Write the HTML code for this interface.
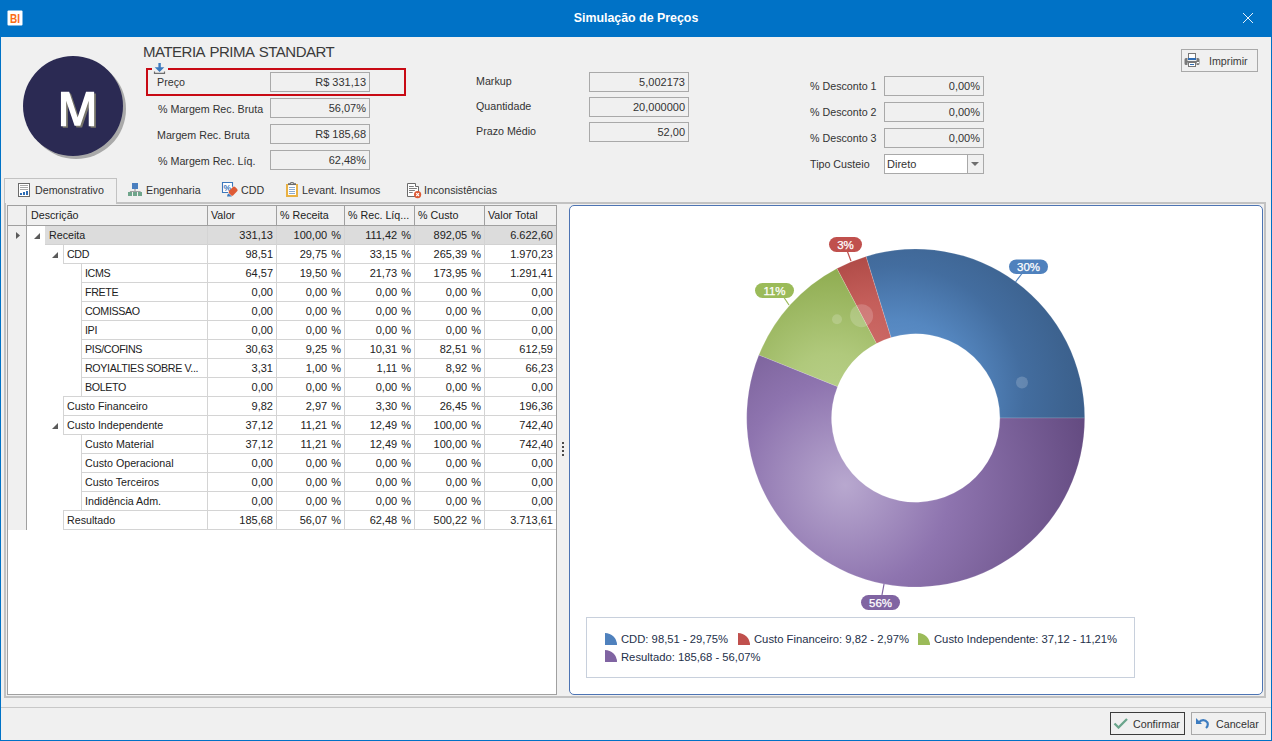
<!DOCTYPE html>
<html><head><meta charset="utf-8">
<style>
*{margin:0;padding:0;box-sizing:border-box}
html,body{width:1272px;height:741px;overflow:hidden;background:#f0f0f0}
body{position:relative;font-family:"Liberation Sans",sans-serif;font-size:10.7px;color:#333}
.a{position:absolute}
.t{position:absolute;white-space:nowrap;line-height:13px}
.gt{color:#222}
.lg{color:#24304a;font-size:11.25px}
.fld{position:absolute;border:1px solid #a9a9a9;background:#f0f0f0;height:20px;width:100px;text-align:right;padding-right:3px;line-height:18px;color:#333;font-size:11px}
</style></head><body>
<!-- window frame -->
<div class="a" style="left:0;top:0;width:1272px;height:37px;background:#0072c6"></div>
<div class="a" style="left:0;top:0;width:1px;height:741px;background:#0072c6"></div>
<div class="a" style="left:1271px;top:0;width:1px;height:741px;background:#0072c6"></div>
<div class="a" style="left:0;top:740px;width:1272px;height:1px;background:#0072c6"></div>
<!-- BI icon -->
<svg class="a" style="left:7px;top:10px" width="16" height="16"><rect x="0.5" y="0.5" width="15" height="15" rx="1" fill="#fff"/><text x="3" y="12.7" font-family="Liberation Sans" font-weight="bold" font-size="13.2" fill="#fb6c14" textLength="10" lengthAdjust="spacingAndGlyphs">BI</text></svg>
<div class="t" style="left:0;top:11px;width:1272px;text-align:center;font-weight:bold;font-size:12.4px;color:#fff;line-height:14px">Simulação de Preços</div>
<!-- close X -->
<svg class="a" style="left:1242px;top:12px" width="12" height="12"><path d="M1 1L11 11M11 1L1 11" stroke="#fff" stroke-opacity="0.9" stroke-width="1"/></svg>

<!-- avatar -->
<div class="a" style="left:26px;top:59px;width:100px;height:100px;border-radius:50%;background:#a9a9a9"></div>
<div class="a" style="left:23px;top:56px;width:100px;height:100px;border-radius:50%;background:#2b2a53"></div>
<svg class="a" style="left:0;top:0" width="130" height="170"><polygon points="60.94,91.75 69.17,91.75 77.60,117.39 86.04,91.75 94.14,91.75 94.14,126.16 88.74,126.16 88.74,100.86 80.30,125.82 74.57,125.82 66.13,100.86 66.13,126.16 60.94,126.16" fill="#77756a" transform="translate(1.8 1.7)"/><polygon points="60.94,91.75 69.17,91.75 77.60,117.39 86.04,91.75 94.14,91.75 94.14,126.16 88.74,126.16 88.74,100.86 80.30,125.82 74.57,125.82 66.13,100.86 66.13,126.16 60.94,126.16" fill="#fff"/></svg>
<div class="t" style="left:143px;top:43.5px;font-size:15px;line-height:16px;color:#3b3b3b;letter-spacing:-0.5px;word-spacing:1.5px">MATERIA PRIMA STANDART</div>

<!-- red box -->
<div class="a" style="left:146px;top:68px;width:260px;height:28px;border:2px solid #c80a14"></div>
<div class="a" style="left:152px;top:62px;width:16px;height:10px;background:#f0f0f0"></div>
<svg class="a" style="left:153px;top:62px" width="13" height="13"><path d="M5.4 1H7.8V5.2H11.3L6.6 10L1.7 5.2H5.4Z" fill="#3d7abf"/><path d="M1.5 9.5V11.3H11.5V9.5" fill="none" stroke="#6e6e6e" stroke-width="1.2"/></svg>
<div class="t" style="left:157px;top:76px">Preço</div>
<div class="fld" style="left:270px;top:72px">R$ 331,13</div>
<div class="t" style="left:158px;top:103px">% Margem Rec. Bruta</div>
<div class="fld" style="left:270px;top:98px">56,07%</div>
<div class="t" style="left:157px;top:129px">Margem Rec. Bruta</div>
<div class="fld" style="left:270px;top:124px">R$ 185,68</div>
<div class="t" style="left:158px;top:155px">% Margem Rec. Líq.</div>
<div class="fld" style="left:270px;top:150px">62,48%</div>

<div class="t" style="left:476px;top:75px">Markup</div>
<div class="fld" style="left:589px;top:72px">5,002173</div>
<div class="t" style="left:476px;top:100px">Quantidade</div>
<div class="fld" style="left:589px;top:97px">20,000000</div>
<div class="t" style="left:476px;top:125px">Prazo Médio</div>
<div class="fld" style="left:589px;top:122px">52,00</div>

<div class="t" style="left:810px;top:80px">% Desconto 1</div>
<div class="fld" style="left:884px;top:76px">0,00%</div>
<div class="t" style="left:810px;top:106px">% Desconto 2</div>
<div class="fld" style="left:884px;top:102px">0,00%</div>
<div class="t" style="left:810px;top:132px">% Desconto 3</div>
<div class="fld" style="left:884px;top:128px">0,00%</div>
<div class="t" style="left:810px;top:158px">Tipo Custeio</div>
<div class="fld" style="left:884px;top:154px;background:#fff;text-align:left;padding-left:2px">Direto</div>
<div class="a" style="left:967px;top:155px;width:16px;height:18px;background:#f0f0f0;border-left:1px solid #a9a9a9"></div>
<svg class="a" style="left:971px;top:162px" width="9" height="5"><path d="M0 0H8L4 4Z" fill="#6e6e6e"/></svg>

<!-- Imprimir -->
<div class="a" style="left:1181px;top:49px;width:77px;height:23px;border:1px solid #a9a9a9"></div>
<svg class="a" style="left:1184px;top:53px" width="17" height="15"><rect x="4.5" y="0.5" width="7" height="6" fill="#fff" stroke="#777"/><rect x="4" y="5" width="8" height="2" fill="#2f6db5"/><path d="M2 5H3.5V8H12.5V5H14A1.5 1.5 0 0 1 15.5 6.5V10.5A1.5 1.5 0 0 1 14 12H12.5V9.5H3.5V12H2A1.5 1.5 0 0 1 0.5 10.5V6.5A1.5 1.5 0 0 1 2 5Z" fill="#7a7a7a"/><rect x="13" y="9" width="2" height="1.2" fill="#fff"/><rect x="4.5" y="9.5" width="7" height="4" fill="#fff" stroke="#777"/><path d="M6 11.5H10" stroke="#2f6db5" stroke-width="1"/></svg>
<div class="t" style="left:1209px;top:55px;color:#3b3b3b">Imprimir</div>

<!-- tabs -->
<div class="a" style="left:4px;top:202px;width:1262px;height:2px;background:#c2c2c2"></div>
<div class="a" style="left:4px;top:178px;width:113px;height:26px;border:1px solid #c2c2c2;border-bottom:none;background:#f0f0f0"></div>
<svg class="a" style="left:18px;top:183px" width="13" height="15"><rect x="0.5" y="0.5" width="11" height="13" fill="#fff" stroke="#6b6b6b"/><path d="M2 2.5H10M2 4.5H10M2 6.5H10" stroke="#a8a8a8" stroke-width="1"/><rect x="2" y="10" width="2" height="2" fill="#2f6db5"/><rect x="5" y="9" width="2" height="3" fill="#2f6db5"/><rect x="8" y="8" width="2" height="4" fill="#2f6db5"/></svg>
<div class="t" style="left:35px;top:184px">Demonstrativo</div>
<svg class="a" style="left:128px;top:183px" width="15" height="14"><rect x="4" y="0" width="6" height="6" fill="#4a7fbf"/><path d="M7 6V8.5M2.5 9V8.5H12V9M7 8.5V9" stroke="#a0a0a0" stroke-width="1.2" fill="none"/><rect x="0" y="9" width="4" height="4" fill="#6fa58b"/><rect x="5" y="9" width="4" height="4" fill="#6fa58b"/><rect x="10" y="9" width="4" height="4" fill="#6fa58b"/></svg>
<div class="t" style="left:146px;top:184px">Engenharia</div>
<svg class="a" style="left:220px;top:180px" width="20" height="20"><rect x="2.5" y="2.5" width="10.5" height="10" fill="#fff"/><path d="M8 12.5H2.5V2.5H12.5V6.8" fill="none" stroke="#3c78bc" stroke-width="1.1"/><text x="3.6" y="10.6" font-family="Liberation Sans" font-weight="bold" font-size="8.5" fill="#3c78bc">%</text><rect x="10.2" y="7.2" width="6" height="8.6" rx="1.6" fill="#de5b36" transform="rotate(45 13.6 11.2)"/><path d="M7 16.6Q7.2 14 8.6 13.4Q10 14.8 12 16.6Z" fill="#3c78bc"/></svg>
<div class="t" style="left:241px;top:184px">CDD</div>
<svg class="a" style="left:283px;top:180px" width="20" height="20"><path d="M3 4H5.2V15H13V4H15V17H3Z" fill="#e9b143"/><rect x="5.2" y="5.6" width="7.8" height="9.4" fill="#fff"/><path d="M5 3.2H7.4V2H10.6V3.2H13V5H5Z" fill="#6b6b6b"/><rect x="8.3" y="2.9" width="1.4" height="1" fill="#fff"/><path d="M6 7.5H12M6 9.5H12M6 11.5H12M6 13.5H12" stroke="#8aaad0" stroke-width="1"/></svg>
<div class="t" style="left:302px;top:184px">Levant. Insumos</div>
<svg class="a" style="left:403px;top:180px" width="20" height="20"><path d="M4.5 3.5H12.5V6.5H15.5V16.5H4.5Z" fill="#fff" stroke="#6b6b6b" stroke-width="1"/><path d="M6 6.5H10.8M6 8.5H13.9M6 10.5H11.9M6 12.5H9.7" stroke="#7d7d7d" stroke-width="1"/><circle cx="14.6" cy="14.6" r="3.6" fill="#dd5a36"/><path d="M13.2 13.2L16 16M16 13.2L13.2 16" stroke="#fff" stroke-width="1.1"/></svg>
<div class="t" style="left:424px;top:184px">Inconsistências</div>

<!-- page borders -->
<div class="a" style="left:4px;top:203px;width:2px;height:495px;background:#c2c2c2"></div>
<div class="a" style="left:1264px;top:203px;width:2px;height:495px;background:#c2c2c2"></div>
<div class="a" style="left:4px;top:696px;width:1262px;height:2px;background:#c2c2c2"></div>
<!-- splitter dots -->
<div class="a" style="left:562px;top:442px;width:2px;height:2px;background:#4a4a4a"></div>
<div class="a" style="left:562px;top:446px;width:2px;height:2px;background:#4a4a4a"></div>
<div class="a" style="left:562px;top:450px;width:2px;height:2px;background:#4a4a4a"></div>
<div class="a" style="left:562px;top:454px;width:2px;height:2px;background:#4a4a4a"></div>
<div class="a" style="left:7px;top:205px;width:550px;height:490px;border:1px solid #a0a0a0;background:#fff"></div>
<div class="a" style="left:8px;top:206px;width:548px;height:19px;background:#f0f0f0"></div>
<div class="a" style="left:8px;top:225px;width:548px;height:1px;background:#a0a0a0"></div>
<div class="a" style="left:8px;top:226px;width:18px;height:304px;background:#f0f0f0"></div>
<div class="a" style="left:26px;top:206px;width:1px;height:324px;background:#a0a0a0"></div>
<div class="a" style="left:207px;top:206px;width:1px;height:19px;background:#a0a0a0"></div>
<div class="a" style="left:276px;top:206px;width:1px;height:19px;background:#a0a0a0"></div>
<div class="a" style="left:344px;top:206px;width:1px;height:19px;background:#a0a0a0"></div>
<div class="a" style="left:414px;top:206px;width:1px;height:19px;background:#a0a0a0"></div>
<div class="a" style="left:484px;top:206px;width:1px;height:19px;background:#a0a0a0"></div>
<div class="t gt" style="left:31px;top:209px">Descrição</div>
<div class="t gt" style="left:211px;top:209px">Valor</div>
<div class="t gt" style="left:280px;top:209px">% Receita</div>
<div class="t gt" style="left:348px;top:209px">% Rec. Líq...</div>
<div class="t gt" style="left:418px;top:209px">% Custo</div>
<div class="t gt" style="left:488px;top:209px">Valor Total</div>
<div class="a" style="left:45px;top:226px;width:511px;height:19px;background:#dcdcdc"></div>
<div class="a" style="left:45px;top:244px;width:511px;height:1px;background:#d2d2d2"></div>
<svg class="a" style="left:34px;top:233px" width="7" height="7"><path d="M6 0V6H0Z" fill="#5a5a5a"/></svg>
<div class="t gt" style="left:49px;top:229px">Receita</div>
<div class="t gt" style="left:207px;top:229px;width:66px;text-align:right;font-size:11px;word-spacing:1px">331,13</div>
<div class="t gt" style="left:276px;top:229px;width:65px;text-align:right;font-size:11px;word-spacing:1px">100,00 %</div>
<div class="t gt" style="left:344px;top:229px;width:67px;text-align:right;font-size:11px;word-spacing:1px">111,42 %</div>
<div class="t gt" style="left:414px;top:229px;width:67px;text-align:right;font-size:11px;word-spacing:1px">892,05 %</div>
<div class="t gt" style="left:484px;top:229px;width:69px;text-align:right;font-size:11px;word-spacing:1px">6.622,60</div>
<div class="a" style="left:63px;top:245px;width:1px;height:19px;background:#d4d4d4"></div>
<div class="a" style="left:63px;top:263px;width:493px;height:1px;background:#d4d4d4"></div>
<svg class="a" style="left:52px;top:252px" width="7" height="7"><path d="M6 0V6H0Z" fill="#5a5a5a"/></svg>
<div class="t gt" style="left:67px;top:248px;letter-spacing:-0.35px">CDD</div>
<div class="t gt" style="left:207px;top:248px;width:66px;text-align:right;font-size:11px;word-spacing:1px">98,51</div>
<div class="t gt" style="left:276px;top:248px;width:65px;text-align:right;font-size:11px;word-spacing:1px">29,75 %</div>
<div class="t gt" style="left:344px;top:248px;width:67px;text-align:right;font-size:11px;word-spacing:1px">33,15 %</div>
<div class="t gt" style="left:414px;top:248px;width:67px;text-align:right;font-size:11px;word-spacing:1px">265,39 %</div>
<div class="t gt" style="left:484px;top:248px;width:69px;text-align:right;font-size:11px;word-spacing:1px">1.970,23</div>
<div class="a" style="left:81px;top:264px;width:1px;height:19px;background:#d4d4d4"></div>
<div class="a" style="left:81px;top:282px;width:475px;height:1px;background:#d4d4d4"></div>
<div class="a" style="left:81px;top:263px;width:475px;height:1px;background:#d4d4d4"></div>
<div class="t gt" style="left:85px;top:267px;letter-spacing:-0.35px">ICMS</div>
<div class="t gt" style="left:207px;top:267px;width:66px;text-align:right;font-size:11px;word-spacing:1px">64,57</div>
<div class="t gt" style="left:276px;top:267px;width:65px;text-align:right;font-size:11px;word-spacing:1px">19,50 %</div>
<div class="t gt" style="left:344px;top:267px;width:67px;text-align:right;font-size:11px;word-spacing:1px">21,73 %</div>
<div class="t gt" style="left:414px;top:267px;width:67px;text-align:right;font-size:11px;word-spacing:1px">173,95 %</div>
<div class="t gt" style="left:484px;top:267px;width:69px;text-align:right;font-size:11px;word-spacing:1px">1.291,41</div>
<div class="a" style="left:81px;top:283px;width:1px;height:19px;background:#d4d4d4"></div>
<div class="a" style="left:81px;top:301px;width:475px;height:1px;background:#d4d4d4"></div>
<div class="a" style="left:81px;top:282px;width:475px;height:1px;background:#d4d4d4"></div>
<div class="t gt" style="left:85px;top:286px;letter-spacing:-0.35px">FRETE</div>
<div class="t gt" style="left:207px;top:286px;width:66px;text-align:right;font-size:11px;word-spacing:1px">0,00</div>
<div class="t gt" style="left:276px;top:286px;width:65px;text-align:right;font-size:11px;word-spacing:1px">0,00 %</div>
<div class="t gt" style="left:344px;top:286px;width:67px;text-align:right;font-size:11px;word-spacing:1px">0,00 %</div>
<div class="t gt" style="left:414px;top:286px;width:67px;text-align:right;font-size:11px;word-spacing:1px">0,00 %</div>
<div class="t gt" style="left:484px;top:286px;width:69px;text-align:right;font-size:11px;word-spacing:1px">0,00</div>
<div class="a" style="left:81px;top:302px;width:1px;height:19px;background:#d4d4d4"></div>
<div class="a" style="left:81px;top:320px;width:475px;height:1px;background:#d4d4d4"></div>
<div class="a" style="left:81px;top:301px;width:475px;height:1px;background:#d4d4d4"></div>
<div class="t gt" style="left:85px;top:305px;letter-spacing:-0.35px">COMISSAO</div>
<div class="t gt" style="left:207px;top:305px;width:66px;text-align:right;font-size:11px;word-spacing:1px">0,00</div>
<div class="t gt" style="left:276px;top:305px;width:65px;text-align:right;font-size:11px;word-spacing:1px">0,00 %</div>
<div class="t gt" style="left:344px;top:305px;width:67px;text-align:right;font-size:11px;word-spacing:1px">0,00 %</div>
<div class="t gt" style="left:414px;top:305px;width:67px;text-align:right;font-size:11px;word-spacing:1px">0,00 %</div>
<div class="t gt" style="left:484px;top:305px;width:69px;text-align:right;font-size:11px;word-spacing:1px">0,00</div>
<div class="a" style="left:81px;top:321px;width:1px;height:19px;background:#d4d4d4"></div>
<div class="a" style="left:81px;top:339px;width:475px;height:1px;background:#d4d4d4"></div>
<div class="a" style="left:81px;top:320px;width:475px;height:1px;background:#d4d4d4"></div>
<div class="t gt" style="left:85px;top:324px;letter-spacing:-0.35px">IPI</div>
<div class="t gt" style="left:207px;top:324px;width:66px;text-align:right;font-size:11px;word-spacing:1px">0,00</div>
<div class="t gt" style="left:276px;top:324px;width:65px;text-align:right;font-size:11px;word-spacing:1px">0,00 %</div>
<div class="t gt" style="left:344px;top:324px;width:67px;text-align:right;font-size:11px;word-spacing:1px">0,00 %</div>
<div class="t gt" style="left:414px;top:324px;width:67px;text-align:right;font-size:11px;word-spacing:1px">0,00 %</div>
<div class="t gt" style="left:484px;top:324px;width:69px;text-align:right;font-size:11px;word-spacing:1px">0,00</div>
<div class="a" style="left:81px;top:340px;width:1px;height:19px;background:#d4d4d4"></div>
<div class="a" style="left:81px;top:358px;width:475px;height:1px;background:#d4d4d4"></div>
<div class="a" style="left:81px;top:339px;width:475px;height:1px;background:#d4d4d4"></div>
<div class="t gt" style="left:85px;top:343px;letter-spacing:-0.35px">PIS/COFINS</div>
<div class="t gt" style="left:207px;top:343px;width:66px;text-align:right;font-size:11px;word-spacing:1px">30,63</div>
<div class="t gt" style="left:276px;top:343px;width:65px;text-align:right;font-size:11px;word-spacing:1px">9,25 %</div>
<div class="t gt" style="left:344px;top:343px;width:67px;text-align:right;font-size:11px;word-spacing:1px">10,31 %</div>
<div class="t gt" style="left:414px;top:343px;width:67px;text-align:right;font-size:11px;word-spacing:1px">82,51 %</div>
<div class="t gt" style="left:484px;top:343px;width:69px;text-align:right;font-size:11px;word-spacing:1px">612,59</div>
<div class="a" style="left:81px;top:359px;width:1px;height:19px;background:#d4d4d4"></div>
<div class="a" style="left:81px;top:377px;width:475px;height:1px;background:#d4d4d4"></div>
<div class="a" style="left:81px;top:358px;width:475px;height:1px;background:#d4d4d4"></div>
<div class="t gt" style="left:85px;top:362px;letter-spacing:-0.35px">ROYIALTIES SOBRE V...</div>
<div class="t gt" style="left:207px;top:362px;width:66px;text-align:right;font-size:11px;word-spacing:1px">3,31</div>
<div class="t gt" style="left:276px;top:362px;width:65px;text-align:right;font-size:11px;word-spacing:1px">1,00 %</div>
<div class="t gt" style="left:344px;top:362px;width:67px;text-align:right;font-size:11px;word-spacing:1px">1,11 %</div>
<div class="t gt" style="left:414px;top:362px;width:67px;text-align:right;font-size:11px;word-spacing:1px">8,92 %</div>
<div class="t gt" style="left:484px;top:362px;width:69px;text-align:right;font-size:11px;word-spacing:1px">66,23</div>
<div class="a" style="left:81px;top:378px;width:1px;height:19px;background:#d4d4d4"></div>
<div class="a" style="left:81px;top:396px;width:475px;height:1px;background:#d4d4d4"></div>
<div class="a" style="left:81px;top:377px;width:475px;height:1px;background:#d4d4d4"></div>
<div class="t gt" style="left:85px;top:381px;letter-spacing:-0.35px">BOLETO</div>
<div class="t gt" style="left:207px;top:381px;width:66px;text-align:right;font-size:11px;word-spacing:1px">0,00</div>
<div class="t gt" style="left:276px;top:381px;width:65px;text-align:right;font-size:11px;word-spacing:1px">0,00 %</div>
<div class="t gt" style="left:344px;top:381px;width:67px;text-align:right;font-size:11px;word-spacing:1px">0,00 %</div>
<div class="t gt" style="left:414px;top:381px;width:67px;text-align:right;font-size:11px;word-spacing:1px">0,00 %</div>
<div class="t gt" style="left:484px;top:381px;width:69px;text-align:right;font-size:11px;word-spacing:1px">0,00</div>
<div class="a" style="left:63px;top:397px;width:1px;height:19px;background:#d4d4d4"></div>
<div class="a" style="left:63px;top:415px;width:493px;height:1px;background:#d4d4d4"></div>
<div class="a" style="left:63px;top:396px;width:493px;height:1px;background:#d4d4d4"></div>
<div class="t gt" style="left:67px;top:400px">Custo Financeiro</div>
<div class="t gt" style="left:207px;top:400px;width:66px;text-align:right;font-size:11px;word-spacing:1px">9,82</div>
<div class="t gt" style="left:276px;top:400px;width:65px;text-align:right;font-size:11px;word-spacing:1px">2,97 %</div>
<div class="t gt" style="left:344px;top:400px;width:67px;text-align:right;font-size:11px;word-spacing:1px">3,30 %</div>
<div class="t gt" style="left:414px;top:400px;width:67px;text-align:right;font-size:11px;word-spacing:1px">26,45 %</div>
<div class="t gt" style="left:484px;top:400px;width:69px;text-align:right;font-size:11px;word-spacing:1px">196,36</div>
<div class="a" style="left:63px;top:416px;width:1px;height:19px;background:#d4d4d4"></div>
<div class="a" style="left:63px;top:434px;width:493px;height:1px;background:#d4d4d4"></div>
<div class="a" style="left:63px;top:415px;width:493px;height:1px;background:#d4d4d4"></div>
<svg class="a" style="left:52px;top:423px" width="7" height="7"><path d="M6 0V6H0Z" fill="#5a5a5a"/></svg>
<div class="t gt" style="left:67px;top:419px">Custo Independente</div>
<div class="t gt" style="left:207px;top:419px;width:66px;text-align:right;font-size:11px;word-spacing:1px">37,12</div>
<div class="t gt" style="left:276px;top:419px;width:65px;text-align:right;font-size:11px;word-spacing:1px">11,21 %</div>
<div class="t gt" style="left:344px;top:419px;width:67px;text-align:right;font-size:11px;word-spacing:1px">12,49 %</div>
<div class="t gt" style="left:414px;top:419px;width:67px;text-align:right;font-size:11px;word-spacing:1px">100,00 %</div>
<div class="t gt" style="left:484px;top:419px;width:69px;text-align:right;font-size:11px;word-spacing:1px">742,40</div>
<div class="a" style="left:81px;top:435px;width:1px;height:19px;background:#d4d4d4"></div>
<div class="a" style="left:81px;top:453px;width:475px;height:1px;background:#d4d4d4"></div>
<div class="a" style="left:81px;top:434px;width:475px;height:1px;background:#d4d4d4"></div>
<div class="t gt" style="left:85px;top:438px">Custo Material</div>
<div class="t gt" style="left:207px;top:438px;width:66px;text-align:right;font-size:11px;word-spacing:1px">37,12</div>
<div class="t gt" style="left:276px;top:438px;width:65px;text-align:right;font-size:11px;word-spacing:1px">11,21 %</div>
<div class="t gt" style="left:344px;top:438px;width:67px;text-align:right;font-size:11px;word-spacing:1px">12,49 %</div>
<div class="t gt" style="left:414px;top:438px;width:67px;text-align:right;font-size:11px;word-spacing:1px">100,00 %</div>
<div class="t gt" style="left:484px;top:438px;width:69px;text-align:right;font-size:11px;word-spacing:1px">742,40</div>
<div class="a" style="left:81px;top:454px;width:1px;height:19px;background:#d4d4d4"></div>
<div class="a" style="left:81px;top:472px;width:475px;height:1px;background:#d4d4d4"></div>
<div class="a" style="left:81px;top:453px;width:475px;height:1px;background:#d4d4d4"></div>
<div class="t gt" style="left:85px;top:457px">Custo Operacional</div>
<div class="t gt" style="left:207px;top:457px;width:66px;text-align:right;font-size:11px;word-spacing:1px">0,00</div>
<div class="t gt" style="left:276px;top:457px;width:65px;text-align:right;font-size:11px;word-spacing:1px">0,00 %</div>
<div class="t gt" style="left:344px;top:457px;width:67px;text-align:right;font-size:11px;word-spacing:1px">0,00 %</div>
<div class="t gt" style="left:414px;top:457px;width:67px;text-align:right;font-size:11px;word-spacing:1px">0,00 %</div>
<div class="t gt" style="left:484px;top:457px;width:69px;text-align:right;font-size:11px;word-spacing:1px">0,00</div>
<div class="a" style="left:81px;top:473px;width:1px;height:19px;background:#d4d4d4"></div>
<div class="a" style="left:81px;top:491px;width:475px;height:1px;background:#d4d4d4"></div>
<div class="a" style="left:81px;top:472px;width:475px;height:1px;background:#d4d4d4"></div>
<div class="t gt" style="left:85px;top:476px">Custo Terceiros</div>
<div class="t gt" style="left:207px;top:476px;width:66px;text-align:right;font-size:11px;word-spacing:1px">0,00</div>
<div class="t gt" style="left:276px;top:476px;width:65px;text-align:right;font-size:11px;word-spacing:1px">0,00 %</div>
<div class="t gt" style="left:344px;top:476px;width:67px;text-align:right;font-size:11px;word-spacing:1px">0,00 %</div>
<div class="t gt" style="left:414px;top:476px;width:67px;text-align:right;font-size:11px;word-spacing:1px">0,00 %</div>
<div class="t gt" style="left:484px;top:476px;width:69px;text-align:right;font-size:11px;word-spacing:1px">0,00</div>
<div class="a" style="left:81px;top:492px;width:1px;height:19px;background:#d4d4d4"></div>
<div class="a" style="left:81px;top:510px;width:475px;height:1px;background:#d4d4d4"></div>
<div class="a" style="left:81px;top:491px;width:475px;height:1px;background:#d4d4d4"></div>
<div class="t gt" style="left:85px;top:495px">Indidência Adm.</div>
<div class="t gt" style="left:207px;top:495px;width:66px;text-align:right;font-size:11px;word-spacing:1px">0,00</div>
<div class="t gt" style="left:276px;top:495px;width:65px;text-align:right;font-size:11px;word-spacing:1px">0,00 %</div>
<div class="t gt" style="left:344px;top:495px;width:67px;text-align:right;font-size:11px;word-spacing:1px">0,00 %</div>
<div class="t gt" style="left:414px;top:495px;width:67px;text-align:right;font-size:11px;word-spacing:1px">0,00 %</div>
<div class="t gt" style="left:484px;top:495px;width:69px;text-align:right;font-size:11px;word-spacing:1px">0,00</div>
<div class="a" style="left:63px;top:511px;width:1px;height:19px;background:#d4d4d4"></div>
<div class="a" style="left:63px;top:529px;width:493px;height:1px;background:#d4d4d4"></div>
<div class="a" style="left:63px;top:510px;width:493px;height:1px;background:#d4d4d4"></div>
<div class="t gt" style="left:67px;top:514px">Resultado</div>
<div class="t gt" style="left:207px;top:514px;width:66px;text-align:right;font-size:11px;word-spacing:1px">185,68</div>
<div class="t gt" style="left:276px;top:514px;width:65px;text-align:right;font-size:11px;word-spacing:1px">56,07 %</div>
<div class="t gt" style="left:344px;top:514px;width:67px;text-align:right;font-size:11px;word-spacing:1px">62,48 %</div>
<div class="t gt" style="left:414px;top:514px;width:67px;text-align:right;font-size:11px;word-spacing:1px">500,22 %</div>
<div class="t gt" style="left:484px;top:514px;width:69px;text-align:right;font-size:11px;word-spacing:1px">3.713,61</div>
<div class="a" style="left:276px;top:226px;width:1px;height:304px;background:#d4d4d4"></div>
<div class="a" style="left:344px;top:226px;width:1px;height:304px;background:#d4d4d4"></div>
<div class="a" style="left:414px;top:226px;width:1px;height:304px;background:#d4d4d4"></div>
<div class="a" style="left:484px;top:226px;width:1px;height:304px;background:#d4d4d4"></div>
<div class="a" style="left:207px;top:226px;width:1px;height:304px;background:#d4d4d4"></div>
<svg class="a" style="left:16px;top:232px" width="5" height="8"><path d="M0 0L4 3.5L0 7Z" fill="#5a5a5a"/></svg>

<!-- chart panel -->
<div class="a" style="left:569px;top:205px;width:694px;height:490px;border:1px solid #4d74b3;border-radius:5px;background:#fff"></div>
<svg class="a" style="left:570px;top:206px" width="692" height="488" viewBox="570 206 692 488">
<defs>
<radialGradient id="g_blue" gradientUnits="userSpaceOnUse" cx="895" cy="395" r="215"><stop offset="0" stop-color="#6a9ad3"/><stop offset="0.35" stop-color="#5587c0"/><stop offset="0.6" stop-color="#436d9f"/><stop offset="0.8" stop-color="#3d6390"/><stop offset="1" stop-color="#385a86"/></radialGradient>
<radialGradient id="g_red" gradientUnits="userSpaceOnUse" cx="872" cy="345" r="110"><stop offset="0" stop-color="#cc6a66"/><stop offset="0.4" stop-color="#c45e5a"/><stop offset="1" stop-color="#a6423e"/></radialGradient>
<radialGradient id="g_green" gradientUnits="userSpaceOnUse" cx="832" cy="395" r="140"><stop offset="0" stop-color="#b8cf88"/><stop offset="0.3" stop-color="#b0c97c"/><stop offset="1" stop-color="#8aa84a"/></radialGradient>
<radialGradient id="g_purple" gradientUnits="userSpaceOnUse" cx="845" cy="485" r="250"><stop offset="0" stop-color="#b8a8cf"/><stop offset="0.42" stop-color="#8e74af"/><stop offset="1" stop-color="#634a80"/></radialGradient>
</defs>
<path d="M1084.70,418.00 A169.0,169.0 0 0 0 866.01,256.47 L890.94,337.52 A84.2,84.2 0 0 1 999.90,418.00 Z" fill="url(#g_blue)" stroke="#ffffff" stroke-opacity="0.22" stroke-width="0.7"/>
<path d="M866.01,256.47 A169.0,169.0 0 0 0 836.90,268.49 L876.44,343.51 A84.2,84.2 0 0 1 890.94,337.52 Z" fill="url(#g_red)" stroke="#ffffff" stroke-opacity="0.22" stroke-width="0.7"/>
<path d="M836.90,268.49 A169.0,169.0 0 0 0 758.84,355.10 L837.55,386.66 A84.2,84.2 0 0 1 876.44,343.51 Z" fill="url(#g_green)" stroke="#ffffff" stroke-opacity="0.22" stroke-width="0.7"/>
<path d="M758.84,355.10 A169.0,169.0 0 1 0 1084.70,418.00 L999.90,418.00 A84.2,84.2 0 1 1 837.55,386.66 Z" fill="url(#g_purple)" stroke="#ffffff" stroke-opacity="0.22" stroke-width="0.7"/>
<circle cx="837" cy="319.3" r="5" fill="#fff" fill-opacity="0.18"/>
<circle cx="861.6" cy="315.7" r="11.5" fill="#fff" fill-opacity="0.18"/>
<circle cx="1022" cy="382.5" r="6" fill="#fff" fill-opacity="0.18"/>
<path d="M1022,273.5 L1015.5,282" stroke="#4f81bd" stroke-width="1.2"/>
<rect x="1009" y="259.5" width="39" height="14.5" rx="7.25" ry="7.25" fill="#4f81bd"/>
<text x="1028.5" y="271.0" text-anchor="middle" font-family="Liberation Sans" font-size="11.5" fill="#fff" stroke="#fff" stroke-width="0.25">30%</text>
<path d="M847.4,251.5 L851,261" stroke="#c0504d" stroke-width="1.2"/>
<rect x="829" y="237" width="33" height="15" rx="7.5" ry="7.5" fill="#c0504d"/>
<text x="845.5" y="249.0" text-anchor="middle" font-family="Liberation Sans" font-size="11.5" fill="#fff" stroke="#fff" stroke-width="0.25">3%</text>
<path d="M784,297.5 L789,305" stroke="#9bbb59" stroke-width="1.2"/>
<rect x="755" y="283" width="39" height="15" rx="7.5" ry="7.5" fill="#9bbb59"/>
<text x="774.5" y="295.0" text-anchor="middle" font-family="Liberation Sans" font-size="11.5" fill="#fff" stroke="#fff" stroke-width="0.25">11%</text>
<path d="M882,595 L884,584" stroke="#8064a2" stroke-width="1.2"/>
<rect x="861" y="595" width="39" height="15" rx="7.5" ry="7.5" fill="#8064a2"/>
<text x="880.5" y="607.0" text-anchor="middle" font-family="Liberation Sans" font-size="11.5" fill="#fff" stroke="#fff" stroke-width="0.25">56%</text>
</svg>
<div class="a" style="left:586px;top:617px;width:549px;height:61px;border:1px solid #c8d0dc;background:#fff"></div>
<svg class="a" style="left:605px;top:633px" width="12" height="12"><path d="M0,12 V0 A12,12 0 0 1 12,12 Z" fill="#4f81bd"/></svg>
<div class="t lg" style="left:621px;top:633px">CDD: 98,51 - 29,75%</div>
<svg class="a" style="left:738px;top:633px" width="12" height="12"><path d="M0,12 V0 A12,12 0 0 1 12,12 Z" fill="#c0504d"/></svg>
<div class="t lg" style="left:754px;top:633px">Custo Financeiro: 9,82 - 2,97%</div>
<svg class="a" style="left:918px;top:633px" width="12" height="12"><path d="M0,12 V0 A12,12 0 0 1 12,12 Z" fill="#9bbb59"/></svg>
<div class="t lg" style="left:934px;top:633px">Custo Independente: 37,12 - 11,21%</div>
<svg class="a" style="left:605px;top:650px" width="12" height="12"><path d="M0,12 V0 A12,12 0 0 1 12,12 Z" fill="#8064a2"/></svg>
<div class="t lg" style="left:621px;top:651px">Resultado: 185,68 - 56,07%</div>

<!-- bottom -->
<div class="a" style="left:1px;top:707px;width:1270px;height:1px;background:#c8c8c8"></div>
<div class="a" style="left:1110px;top:712px;width:75px;height:23px;border:1px solid #3c3c3c"></div>
<svg class="a" style="left:1113px;top:717px" width="16" height="12"><path d="M1.5 6.5L5.5 10.5L14 2" fill="none" stroke="#6aa58c" stroke-width="2.3"/></svg>
<div class="t" style="left:1133px;top:718px">Confirmar</div>
<div class="a" style="left:1191px;top:712px;width:75px;height:23px;border:1px solid #a9a9a9"></div>
<svg class="a" style="left:1195px;top:717px" width="14" height="12"><path d="M4 5.5A5 5 0 0 1 12.3 5.3A5 5 0 0 1 11 11" fill="none" stroke="#3d7cc0" stroke-width="2.2"/><path d="M1 1V7H7Z" fill="#3d7cc0"/></svg>
<div class="t" style="left:1216px;top:718px">Cancelar</div>
</body></html>
